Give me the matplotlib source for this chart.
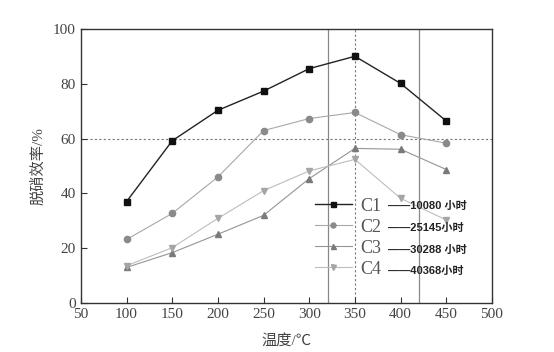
import matplotlib
matplotlib.use("Agg")
import matplotlib.pyplot as plt

temps = [100, 150, 200, 250, 300, 350, 400, 450]
c1 = [37.0, 59.2, 70.3, 77.3, 85.5, 90.0, 80.1, 66.4]
c2 = [23.2, 32.7, 46.0, 62.9, 67.3, 69.5, 61.4, 58.3]
c3 = [13.0, 18.4, 25.1, 32.0, 45.4, 56.4, 56.1, 48.7]
c4 = [13.6, 20.2, 30.9, 41.0, 48.2, 52.4, 38.2, 30.3]
names = ["C1", "C2", "C3", "C4"]
hours = ["10080 小时", "25145小时", "30288 小时", "40368小时"]
xticks = [50, 100, 150, 200, 250, 300, 350, 400, 450, 500]
yticks = [0, 20, 40, 60, 80, 100]
vlines_solid = [320, 420]
vline_dotted = 350
hline_dotted = 60

serif = ["Liberation Serif", "Noto Sans CJK SC"]
tc = "#444444"

fig = plt.figure(figsize=(5.54, 3.52), dpi=100)
ax = fig.add_axes([0.146, 0.139, 0.742, 0.779])

styles = [
    dict(color="#222222", marker="s", ms=4.5, lw=1.0, mfc="#111111", mec="#111111"),
    dict(color="#a8a8a8", marker="o", ms=4.5, lw=0.8, mfc="#8a8a8a", mec="#8a8a8a"),
    dict(color="#959595", marker="^", ms=4.5, lw=0.8, mfc="#7a7a7a", mec="#7a7a7a"),
    dict(color="#bdbdbd", marker="v", ms=4.5, lw=0.8, mfc="#a5a5a5", mec="#a5a5a5"),
]
series = [c1, c2, c3, c4]
handles = []
for s, st, n in zip(series, styles, names):
    h, = ax.plot(temps, s, label=n, **st)
    handles.append(h)

for v in vlines_solid:
    ax.axvline(v, color="#888888", lw=0.9, zorder=0)
ax.axvline(vline_dotted, color="#777777", lw=0.8, ls=(0, (2, 2)), zorder=0)
ax.axhline(hline_dotted, color="#777777", lw=0.8, ls=(0, (2, 2)), zorder=0)

ax.set_xlim(50, 500)
ax.set_ylim(0, 100)
ax.set_xticks(xticks)
ax.set_yticks(yticks)
ax.tick_params(direction="in", length=4, top=False, right=False, labelsize=11,
               labelcolor=tc, color="#333333")
for lab in ax.get_xticklabels() + ax.get_yticklabels():
    lab.set_family(serif)
for sp in ax.spines.values():
    sp.set_color("#333333")
    sp.set_linewidth(1.0)

ax.set_xlabel("温度/℃", family=serif, fontsize=11, color=tc, labelpad=9)
ax.set_ylabel("脱硝效率/%", family=serif, fontsize=11, color=tc, labelpad=6)

leg = ax.legend(handles=handles, labels=names, loc="upper left",
                bbox_to_anchor=(0.569, 0.384), frameon=False, handlelength=2.05,
                handletextpad=0.45, labelspacing=0.22, borderpad=0,
                borderaxespad=0, markerscale=0.8,
                prop={"family": serif, "size": 13})
for t in leg.get_texts():
    t.set_color("#555555")

row_y = [0.354, 0.274, 0.193, 0.117]
for y, hh in zip(row_y, hours):
    ax.text(0.747, y, "——" + hh, transform=ax.transAxes, fontsize=8,
            fontweight="bold", family=["Liberation Sans", "Noto Sans CJK SC"],
            color="#222222", va="center", ha="left")

fig.savefig("out.png", dpi=100)
